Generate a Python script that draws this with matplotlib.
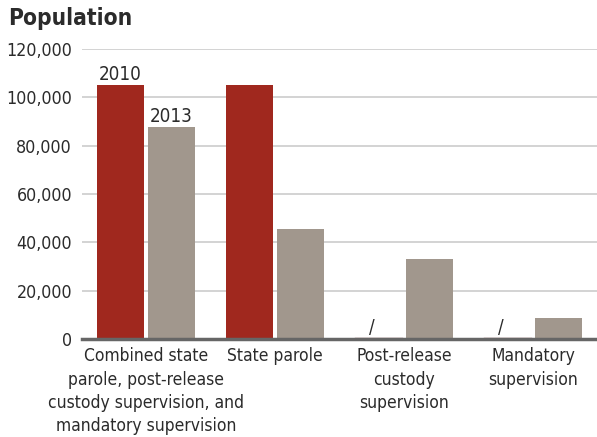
import matplotlib.pyplot as plt
from matplotlib import font_manager
from matplotlib.transforms import blended_transform_factory, offset_copy
import numpy as np

# pick a narrow font if one is installed
FS, TS = 10.5, 13.5
plt.rcParams['font.family'] = ['DejaVu Sans']
for fam, stretch, size in [('Liberation Sans Narrow', 'normal', 14), ('DejaVu Sans', 'condensed', 12.5)]:
    try:
        path = font_manager.findfont(font_manager.FontProperties(family=fam, stretch=stretch),
                                     fallback_to_default=False)
    except ValueError:
        continue
    if 'Narrow' in path or 'Condensed' in path:
        plt.rcParams['font.family'] = [fam, 'DejaVu Sans']
        plt.rcParams['font.stretch'] = stretch
        FS, TS = size, size * 1.3
        break

categories = ['Combined state\nparole, post-release\ncustody supervision, and\nmandatory supervision',
              'State parole', 'Post-release\ncustody\nsupervision', 'Mandatory\nsupervision']
pop_2010 = [105000, 105000, 0, 0]
pop_2013 = [87700, 45500, 33100, 8700]
yticks = [0, 20000, 40000, 60000, 80000, 100000, 120000]

RED = '#A0281E'
GRAY = '#A1978D'
TXT = '#2b2b2b'

fig = plt.figure(figsize=(5.97, 4.37), dpi=100)
ax = fig.add_axes([0.137, 0.224, 0.863, 0.664])

x = np.arange(len(categories))
w = 0.364
off = 0.198
ax.bar(x - off, pop_2010, w, color=RED, zorder=3)
ax.bar(x + off, pop_2013, w, color=GRAY, zorder=3)

# missing 2010 values
for i, v in enumerate(pop_2010):
    if v == 0:
        ax.plot([x[i] - off - w / 2, x[i] - off + w / 2], [300, 300], color='#8a5a55', lw=1, zorder=4)
        ax.text(x[i] - off - 0.05, 900, '/', ha='center', va='bottom', fontsize=FS + 1, color=TXT)

ax.text(x[0] - off, pop_2010[0] + 500, '2010', ha='center', va='bottom', fontsize=FS + 1, color=TXT)
ax.text(x[0] + off, pop_2013[0] + 500, '2013', ha='center', va='bottom', fontsize=FS + 1, color=TXT)

ax.set_xlim(-0.496, 3.496)
ax.set_ylim(0, 120000)
ax.set_yticks(yticks)
ax.set_yticklabels([f'{t:,}' for t in yticks], fontsize=FS + 0.3, color=TXT)
ax.set_xticks(x)
ax.set_xticklabels([])
ax.tick_params(axis='both', length=0)
ax.tick_params(axis='y', pad=7)

# category labels, one text per line
trans = blended_transform_factory(ax.transData, ax.transAxes)
line_h = 16.8  # points
for i, lab in enumerate(categories):
    for j, line in enumerate(lab.split('\n')):
        t = offset_copy(trans, fig=fig, x=0, y=-6 - j * line_h, units='points')
        ax.text(x[i], 0, line, transform=t, ha='center', va='top', fontsize=FS, color=TXT)

ax.grid(axis='y', color='#cccccc', lw=1.2, zorder=0)
for s in ['top', 'right', 'left']:
    ax.spines[s].set_visible(False)
ax.spines['bottom'].set_color('#666666')
ax.spines['bottom'].set_linewidth(2.5)
ax.spines['bottom'].set_zorder(5)

fig.text(0.013, 0.958, 'Population', fontsize=TS, fontweight='bold', color=TXT, ha='left', va='center')

fig.savefig('out.png', dpi=100)
